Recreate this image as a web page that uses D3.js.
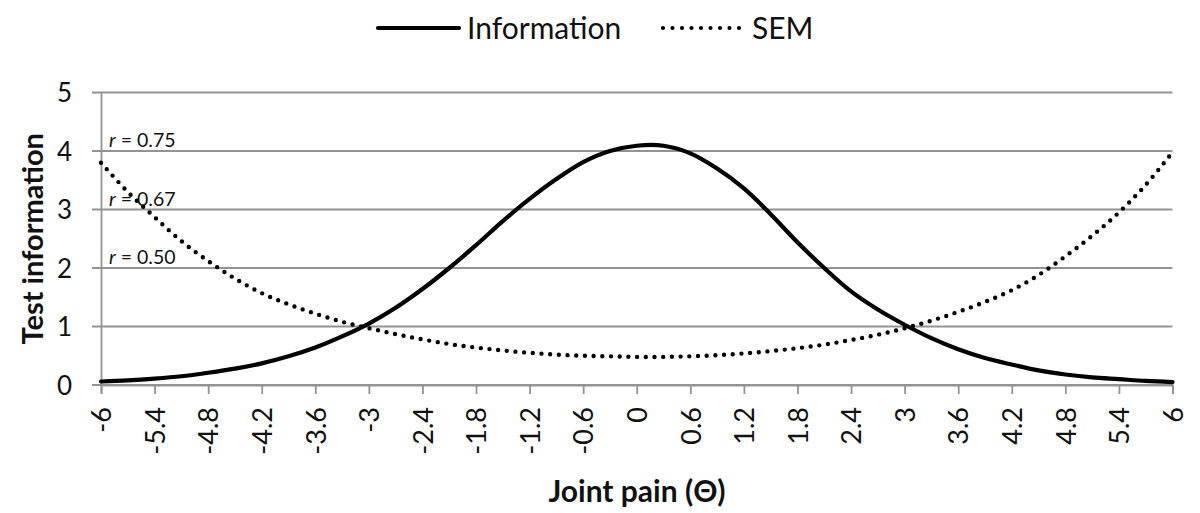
<!DOCTYPE html>
<html>
<head>
<meta charset="utf-8">
<script src="https://cdn.jsdelivr.net/npm/d3@7"></script>
<style>
    body { margin: 0; background: #fff; }
    svg text { font-family: Lato, "Open Sans", sans-serif; fill: #111; }
</style>
</head>
<body>
<div id="chart"></div>
<script>
// theta grid, step 0.3
const thetas = [-6, -5.7, -5.4, -5.1, -4.8, -4.5, -4.2, -3.9, -3.6, -3.3, -3, -2.7, -2.4, -2.1, -1.8, -1.5, -1.2, -0.9, -0.6, -0.3,
    0, 0.3, 0.6, 0.9, 1.2, 1.5, 1.8, 2.1, 2.4, 2.7, 3, 3.3, 3.6, 3.9, 4.2, 4.5, 4.8, 5.1, 5.4, 5.7, 6];

const information = [0.06, 0.08, 0.11, 0.15, 0.21, 0.28, 0.37, 0.49, 0.64, 0.83, 1.05, 1.32, 1.64, 2.0, 2.39, 2.80, 3.18, 3.52, 3.81, 4.0,
    4.09, 4.09, 3.96, 3.70, 3.36, 2.92, 2.44, 2.0, 1.60, 1.29, 1.03, 0.80, 0.61, 0.46, 0.35, 0.25, 0.18, 0.13, 0.10, 0.07, 0.05];

const sem = [3.8, 3.3, 2.87, 2.46, 2.12, 1.82, 1.57, 1.38, 1.22, 1.08, 0.97, 0.87, 0.78, 0.70, 0.64, 0.59, 0.55, 0.52, 0.50, 0.49,
    0.48, 0.48, 0.49, 0.51, 0.54, 0.58, 0.63, 0.69, 0.77, 0.86, 0.97, 1.10, 1.25, 1.42, 1.62, 1.88, 2.20, 2.55, 2.95, 3.42, 3.98];

const xTicks = [-6, -5.4, -4.8, -4.2, -3.6, -3, -2.4, -1.8, -1.2, -0.6, 0, 0.6, 1.2, 1.8, 2.4, 3, 3.6, 4.2, 4.8, 5.4, 6];
const yTicks = [0, 1, 2, 3, 4, 5];
const reliabilityLabels = [
    { value: 4, label: "0.75" },
    { value: 3, label: "0.67" },
    { value: 2, label: "0.50" }
];

const W = 1200, H = 513;
const plot = { left: 101, right: 1172.5, top: 92.5, bottom: 385 };

const svg = d3.select("#chart").append("svg")
    .attr("width", W)
    .attr("height", H);

const x = d3.scaleLinear().domain([-6, 6]).range([plot.left, plot.right]);
const y = d3.scaleLinear().domain([0, 5]).range([plot.bottom, plot.top]);

const grey = "#939393";

// gridlines (with the little outside tick on the left)
svg.append("g")
    .selectAll("line")
    .data(yTicks)
    .enter().append("line")
    .attr("x1", plot.left - 9)
    .attr("x2", plot.right)
    .attr("y1", d => y(d))
    .attr("y2", d => y(d))
    .attr("stroke", grey)
    .attr("stroke-width", 1.8);

// y axis
const yAxis = svg.append("g")
    .attr("transform", `translate(${plot.left},0)`)
    .call(d3.axisLeft(y).tickValues(yTicks).tickSize(0).tickPadding(29).tickFormat(d => String(d)));
yAxis.select(".domain").attr("stroke", grey).attr("stroke-width", 1.8);
yAxis.selectAll("text")
    .style("font-size", "26px")
    .attr("dy", "0.36em");

// x axis
const xAxis = svg.append("g")
    .attr("transform", `translate(0,${plot.bottom})`)
    .call(d3.axisBottom(x).tickValues(xTicks).tickSize(9).tickFormat(d => String(d)));
xAxis.select(".domain").attr("stroke", grey).attr("stroke-width", 1.8);
xAxis.selectAll(".tick line").attr("stroke", grey).attr("stroke-width", 1.8);
xAxis.selectAll("text")
    .style("font-size", "27px")
    .attr("transform", "rotate(-90)")
    .attr("text-anchor", "end")
    .attr("x", -22)
    .attr("y", 0)
    .attr("dy", "0.36em");

// r labels
svg.append("g")
    .selectAll("text")
    .data(reliabilityLabels)
    .enter().append("text")
    .attr("x", plot.left + 8)
    .attr("y", d => y(d.value) - 4)
    .style("font-size", "19.5px")
    .each(function(d) {
        const t = d3.select(this);
        t.append("tspan").style("font-style", "italic").text("r");
        t.append("tspan").text(" = " + d.label);
    });

// curves
const curveLine = d3.line()
    .x((d, i) => x(thetas[i]))
    .y(d => y(d))
    .curve(d3.curveCatmullRom.alpha(0.5));

svg.append("path")
    .datum(sem)
    .attr("d", curveLine)
    .attr("fill", "none")
    .attr("stroke", "#000")
    .attr("stroke-width", 4.4)
    .attr("stroke-linecap", "round")
    .attr("stroke-dasharray", "0 8.7");

svg.append("path")
    .datum(information)
    .attr("d", curveLine)
    .attr("fill", "none")
    .attr("stroke", "#000")
    .attr("stroke-width", 4.2)
    .attr("stroke-linecap", "round");

// axis titles
svg.append("text")
    .attr("transform", `translate(43,${(plot.top + plot.bottom) / 2}) rotate(-90)`)
    .attr("text-anchor", "middle")
    .style("font-size", "29px")
    .style("font-weight", "bold")
    .text("Test information");

svg.append("text")
    .attr("x", 637)
    .attr("y", 502)
    .attr("text-anchor", "middle")
    .style("font-size", "30px")
    .style("font-weight", "bold")
    .text("Joint pain (Θ)");

// legend
const legend = svg.append("g");
legend.append("line")
    .attr("x1", 378).attr("x2", 459)
    .attr("y1", 28).attr("y2", 28)
    .attr("stroke", "#000")
    .attr("stroke-width", 4.2)
    .attr("stroke-linecap", "round");
legend.append("text")
    .attr("x", 467).attr("y", 28)
    .attr("dy", "0.36em")
    .style("font-size", "30px")
    .text("Information");
legend.append("line")
    .attr("x1", 663).attr("x2", 740)
    .attr("y1", 28).attr("y2", 28)
    .attr("stroke", "#000")
    .attr("stroke-width", 4.2)
    .attr("stroke-linecap", "round")
    .attr("stroke-dasharray", "0 9.5");
legend.append("text")
    .attr("x", 752).attr("y", 28)
    .attr("dy", "0.36em")
    .style("font-size", "30px")
    .text("SEM");
</script>
</body>
</html>
